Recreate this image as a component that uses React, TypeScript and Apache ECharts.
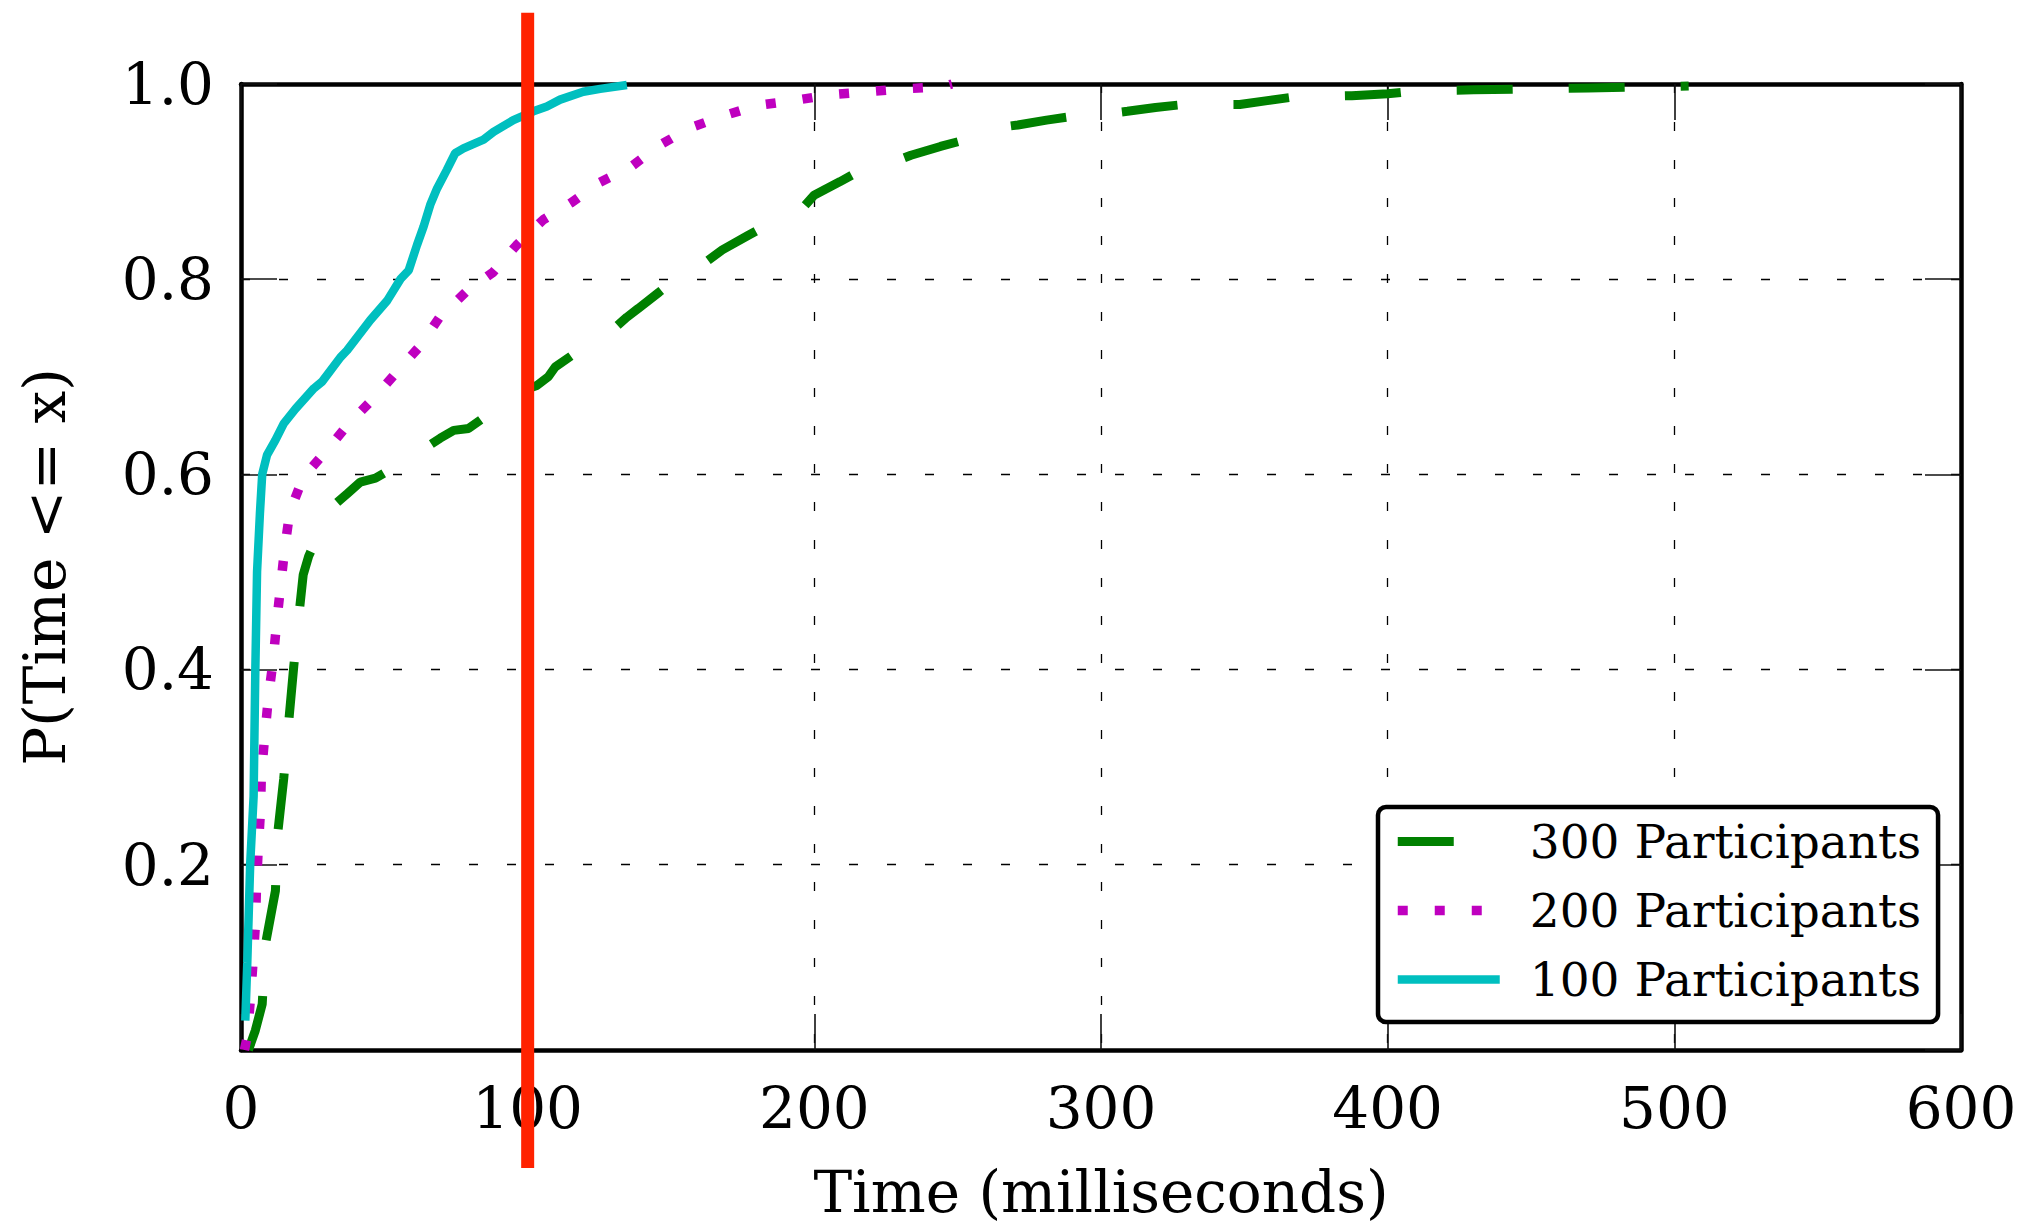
import React, { useEffect, useRef } from "react";
import * as echarts from "echarts";

const FONT = "'DejaVu Serif', serif";

const xTicks = [0, 100, 200, 300, 400, 500, 600];
const yRange = [0.01, 1.0];

const seriesNames = ["300 Participants", "200 Participants", "100 Participants"];
const seriesColors = ["#008000", "#bf00bf", "#00bfbf"];
const seriesDash: any[] = [[56, 56], [10, 27], "solid"];
const seriesWidth = [9, 9.5, 8.5];

// 300 Participants (green, dashed)
const p300: number[][] = [
  [2.6, 0.01], [5, 0.03], [7.4, 0.057], [8.5, 0.118], [12, 0.173], [12.8, 0.232],
  [14.9, 0.288], [16.7, 0.348], [18.4, 0.403], [20.5, 0.464], [21.7, 0.497],
  [23.6, 0.516], [28, 0.545], [33.5, 0.571], [37, 0.58], [41.6, 0.592],
  [46.9, 0.596], [55, 0.61], [63.7, 0.626], [69.5, 0.637], [74.2, 0.645],
  [79.4, 0.647], [88, 0.665], [95.6, 0.683], [103.2, 0.691], [107.2, 0.7],
  [109.6, 0.71], [118, 0.727], [125.3, 0.741], [130, 0.749], [134.6, 0.761],
  [138.6, 0.77], [146, 0.787], [153.7, 0.805], [160.5, 0.814], [167.9, 0.83],
  [177, 0.845], [185.7, 0.859], [191.9, 0.869], [196.3, 0.874], [199.9, 0.886],
  [209, 0.9], [217.7, 0.914], [226.6, 0.919], [233.7, 0.927], [244, 0.936],
  [254.1, 0.944], [260.4, 0.954], [271, 0.958], [281, 0.963], [290.6, 0.967],
  [300.4, 0.969], [309.2, 0.972], [319, 0.976], [328.8, 0.979], [348.4, 0.979],
  [358, 0.983], [367.9, 0.987], [387.5, 0.988], [400, 0.99], [410, 0.993],
  [430, 0.994], [450, 0.995], [470, 0.996], [490, 0.997], [505, 0.998],
];

// 200 Participants (magenta, dotted)
const p200: number[][] = [
  [1.2, 0.01], [2.2, 0.024], [3.3, 0.063], [4.2, 0.1], [5.05, 0.14], [5.4, 0.177],
  [6, 0.216], [6.8, 0.255], [7.1, 0.293], [8.3, 0.332], [9.5, 0.37], [11.2, 0.409],
  [12.4, 0.447], [13.8, 0.485], [15.2, 0.523], [17, 0.561], [21.7, 0.597],
  [30, 0.625], [37.6, 0.652], [46.3, 0.678], [54.4, 0.705], [62.3, 0.731],
  [69.3, 0.761], [78.5, 0.787], [87.9, 0.807], [96.2, 0.835], [105.5, 0.861],
  [115, 0.878], [125, 0.899], [136, 0.915], [145.9, 0.937], [156.6, 0.955],
  [168, 0.967], [180, 0.978], [192.8, 0.983], [205.6, 0.989], [218, 0.992],
  [231, 0.995], [244, 0.997], [248, 1.0],
];

// 100 Participants (cyan, solid)
const p100: number[][] = [
  [1.5, 0.04], [2.2, 0.1], [3.2, 0.2], [4.4, 0.27], [5.0, 0.4], [5.6, 0.5],
  [6.6, 0.56], [7.4, 0.6], [9.1, 0.62], [12, 0.635], [14.9, 0.652], [19, 0.667],
  [25.4, 0.688], [28.3, 0.695], [34.7, 0.72], [37, 0.727], [45.1, 0.758],
  [51, 0.778], [55.6, 0.8], [58.5, 0.809], [61.4, 0.835], [63.7, 0.854],
  [66, 0.876], [68.4, 0.893], [71.8, 0.912], [74.7, 0.929], [77.6, 0.934],
  [84.6, 0.943], [88.1, 0.951], [95, 0.963], [102, 0.972], [106.7, 0.977],
  [111.3, 0.984], [119.4, 0.992], [125.3, 0.995], [134.6, 0.999],
];

// vertical threshold line at 100 ms (extends past the plot area)
const threshold: number[][] = [[100, -0.111], [100, 1.073]];

export default function App() {
  const ref = useRef<HTMLDivElement>(null);

  useEffect(() => {
    if (!ref.current) return;
    const chart = echarts.init(ref.current, undefined, { renderer: "svg" });

    const spine = { show: true, onZero: false, lineStyle: { color: "#000", width: 4.5 } };
    const tick = { show: true, inside: true, length: 36, lineStyle: { color: "#111", width: 1.6 } };
    const grid = { show: true, lineStyle: { color: "#000", width: 1.3, type: [9, 29] } };

    const option: any = {
      animation: false,
      backgroundColor: "#ffffff",
      grid: {
        left: 241,
        right: 74,
        top: 84,
        bottom: 178,
        containLabel: false,
        outerBoundsMode: "none",
      },
      legend: {
        data: seriesNames.map((n, i) => ({
          name: n,
          itemStyle: { opacity: 0 },
          lineStyle: { width: seriesWidth[i], type: seriesDash[i], color: seriesColors[i] },
        })),
        orient: "vertical",
        left: 1378,
        top: 807,
        itemWidth: 102,
        itemHeight: 20,
        itemGap: 22,
        padding: [11, 17, 19, 15],
        borderColor: "#000",
        borderWidth: 4.5,
        borderRadius: 8,
        backgroundColor: "#fff",
        textStyle: { fontFamily: FONT, fontSize: 47, color: "#000", padding: [0, 0, 0, 25] },
      },
      xAxis: [
        {
          type: "value",
          min: xTicks[0],
          max: xTicks[xTicks.length - 1],
          interval: 100,
          position: "bottom",
          axisLine: spine,
          axisTick: tick,
          splitLine: grid,
          axisLabel: { fontFamily: FONT, fontSize: 58, color: "#000", margin: 29 },
          name: "Time (milliseconds)",
          nameLocation: "middle",
          nameGap: 142,
          nameTextStyle: {
            fontFamily: FONT,
            fontSize: 58,
            lineHeight: 58,
            color: "#000",
            verticalAlign: "middle",
          },
        },
        {
          type: "value",
          min: xTicks[0],
          max: xTicks[xTicks.length - 1],
          interval: 100,
          position: "top",
          axisLine: spine,
          axisTick: tick,
          splitLine: { show: false },
          axisLabel: { show: false },
        },
      ],
      yAxis: [
        {
          type: "value",
          min: yRange[0],
          max: yRange[1],
          splitNumber: 5,
          position: "left",
          axisLine: spine,
          axisTick: tick,
          splitLine: grid,
          axisLabel: {
            fontFamily: FONT,
            fontSize: 58,
            color: "#000",
            margin: 27,
            showMinLabel: false,
            formatter: (v: number) => v.toFixed(1),
          },
          name: "P(Time <= x)",
          nameLocation: "middle",
          nameGap: 196,
          nameRotate: 90,
          nameTextStyle: { fontFamily: FONT, fontSize: 58, color: "#000", verticalAlign: "middle" },
        },
        {
          type: "value",
          min: yRange[0],
          max: yRange[1],
          splitNumber: 5,
          position: "right",
          axisLine: spine,
          axisTick: tick,
          splitLine: { show: false },
          axisLabel: { show: false },
        },
      ],
      series: [
        {
          name: seriesNames[0],
          type: "line",
          data: p300,
          symbol: "none",
          color: seriesColors[0],
          lineStyle: { color: seriesColors[0], width: seriesWidth[0], type: seriesDash[0] },
        },
        {
          name: seriesNames[1],
          type: "line",
          data: p200,
          symbol: "none",
          color: seriesColors[1],
          lineStyle: { color: seriesColors[1], width: seriesWidth[1], type: seriesDash[1] },
        },
        {
          name: seriesNames[2],
          type: "line",
          data: p100,
          symbol: "none",
          color: seriesColors[2],
          lineStyle: { color: seriesColors[2], width: seriesWidth[2], type: seriesDash[2] },
        },
        {
          name: "threshold",
          type: "line",
          data: threshold,
          symbol: "none",
          clip: false,
          z: 5,
          silent: true,
          color: "#ff2200",
          lineStyle: { color: "#ff2200", width: 13 },
        },
      ],
    };

    chart.setOption(option);
    return () => chart.dispose();
  }, []);

  return (
    <div
      ref={ref}
      style={{ position: "fixed", left: 0, top: 0, width: 2035, height: 1228, background: "#fff" }}
    />
  );
}
